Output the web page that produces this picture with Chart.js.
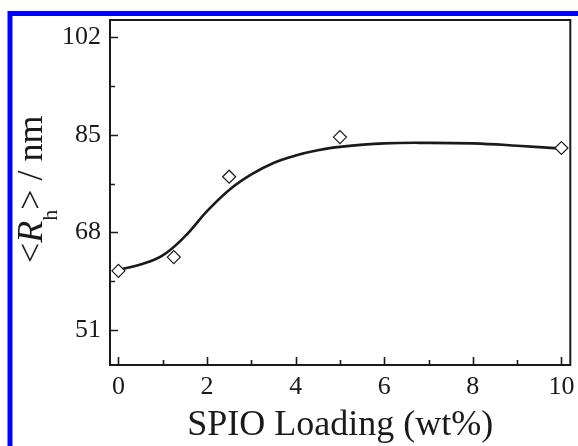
<!DOCTYPE html>
<html>
<head>
<meta charset="utf-8">
<script src="https://cdn.jsdelivr.net/npm/chart.js@4/dist/chart.umd.min.js"></script>
<style>
  html, body { margin: 0; padding: 0; background: #fff; }
  #wrap { width: 578px; height: 446px; }
</style>
</head>
<body>
<div id="wrap"><canvas id="rh-canvas" width="578" height="446"></canvas></div>
<script>
// measured hydrodynamic radius vs SPIO loading
var loading = [0, 1.25, 2.5, 5, 10];
var radius = [61.3, 63.7, 77.7, 84.6, 82.7];

// guide-to-the-eye curve
var fitLoading = [0, 0.5, 1, 1.5, 2, 2.5, 3, 3.5, 4, 4.5, 5, 6, 7, 8, 9, 10];
var fitRadius = [61.5, 62.4, 64.0, 67.3, 71.7, 75.4, 78.1, 80.1, 81.4, 82.3, 82.9, 83.5, 83.6, 83.5, 83.1, 82.6];

// axis ticks
var xTicks = [0, 2, 4, 6, 8, 10];
var xMinor = [1, 3, 5, 7, 9];
var yTicks = [51, 68, 85, 102];
var yMinor = [59.5, 76.5, 93.5];

var ink = '#1a1a1a';
var serif = "'Liberation Serif', 'Times New Roman', serif";

function toPoints(xs, ys) {
    return xs.map(function(x, i) { return { x: x, y: ys[i] }; });
}

// white page, blue figure border, plot frame, inward ticks, y title
var framePlugin = {
    id: 'frame',
    beforeDraw: function(chart) {
        var ctx = chart.ctx;
        ctx.save();
        ctx.fillStyle = '#fff';
        ctx.fillRect(0, 0, chart.width, chart.height);
        ctx.strokeStyle = '#0000ff';
        ctx.lineWidth = 5;
        ctx.strokeRect(10, 13.5, chart.width + 20, chart.height + 20);
        ctx.restore();
    },
    afterDraw: function(chart) {
        var ctx = chart.ctx;
        var a = chart.chartArea;
        var xs = chart.scales.x, ys = chart.scales.y;
        ctx.save();
        ctx.strokeStyle = ink;
        ctx.lineWidth = 2;
        ctx.strokeRect(a.left, a.top, a.right - a.left, a.bottom - a.top);

        ctx.lineWidth = 1.6;
        ctx.beginPath();
        xTicks.forEach(function(v) {
            var px = Math.round(xs.getPixelForValue(v)) + 0.5;
            ctx.moveTo(px, a.bottom); ctx.lineTo(px, a.bottom - 8);
        });
        xMinor.forEach(function(v) {
            var px = Math.round(xs.getPixelForValue(v)) + 0.5;
            ctx.moveTo(px, a.bottom); ctx.lineTo(px, a.bottom - 5);
        });
        yTicks.forEach(function(v) {
            var py = Math.round(ys.getPixelForValue(v)) + 0.5;
            ctx.moveTo(a.left, py); ctx.lineTo(a.left + 8, py);
        });
        yMinor.forEach(function(v) {
            var py = Math.round(ys.getPixelForValue(v)) + 0.5;
            ctx.moveTo(a.left, py); ctx.lineTo(a.left + 5, py);
        });
        ctx.stroke();

        // <R_h> / nm, rotated
        ctx.translate(41.5, 263);
        ctx.rotate(-Math.PI / 2);
        ctx.fillStyle = ink;
        ctx.textAlign = 'left';
        ctx.textBaseline = 'alphabetic';
        var parts = [
            ['<', 'normal', 36, 0],
            ['R', 'italic', 36, 0],
            ['h', 'normal', 22, 15],
            ['>', 'normal', 36, 0],
            [' / nm', 'normal', 36, 0]
        ];
        var x = 0;
        parts.forEach(function(p) {
            ctx.font = p[1] + ' ' + p[2] + 'px ' + serif;
            ctx.fillText(p[0], x, p[3]);
            x += ctx.measureText(p[0]).width;
        });
        ctx.restore();
    }
};

window.onload = function() {
    var ctx = document.getElementById('rh-canvas').getContext('2d');
    window.rhChart = new Chart(ctx, {
        type: 'scatter',
        data: {
            datasets: [{
                label: 'data',
                data: toPoints(loading, radius),
                pointStyle: 'rectRot',
                pointRadius: 6.5,
                pointBackgroundColor: '#fff',
                pointBorderColor: ink,
                pointBorderWidth: 1.2,
                showLine: false,
                order: 0
            }, {
                label: 'fit',
                data: toPoints(fitLoading, fitRadius),
                showLine: true,
                borderColor: ink,
                borderWidth: 2.6,
                pointRadius: 0,
                tension: 0.4,
                order: 1
            }]
        },
        options: {
            responsive: false,
            animation: false,
            layout: { padding: { left: 0, top: 20, right: 5, bottom: 0 } },
            plugins: {
                legend: { display: false },
                tooltip: { enabled: false }
            },
            scales: {
                x: {
                    type: 'linear',
                    min: -0.19,
                    max: 10.2,
                    grid: { display: false, drawTicks: false },
                    border: { display: false },
                    afterBuildTicks: function(scale) {
                        scale.ticks = xTicks.map(function(v) { return { value: v }; });
                    },
                    afterFit: function(scale) {
                        scale.height = 81;
                        scale.paddingLeft = 0;
                        scale.paddingRight = 0;
                    },
                    ticks: {
                        color: ink,
                        padding: 7,
                        maxRotation: 0,
                        font: { family: serif, size: 26 }
                    },
                    title: {
                        display: true,
                        text: 'SPIO Loading (wt%)',
                        color: ink,
                        padding: { top: 0, bottom: 2 },
                        font: { family: serif, size: 36, lineHeight: 1 }
                    }
                },
                y: {
                    type: 'linear',
                    min: 44.9,
                    max: 105,
                    grid: { display: false, drawTicks: false },
                    border: { display: false },
                    afterBuildTicks: function(scale) {
                        scale.ticks = yTicks.map(function(v) { return { value: v }; });
                    },
                    afterFit: function(scale) {
                        scale.width = 110;
                        scale.paddingTop = 0;
                        scale.paddingBottom = 0;
                    },
                    ticks: {
                        color: ink,
                        padding: 9,
                        font: { family: serif, size: 26 }
                    }
                }
            }
        },
        plugins: [framePlugin]
    });
};
</script>
</body>
</html>
